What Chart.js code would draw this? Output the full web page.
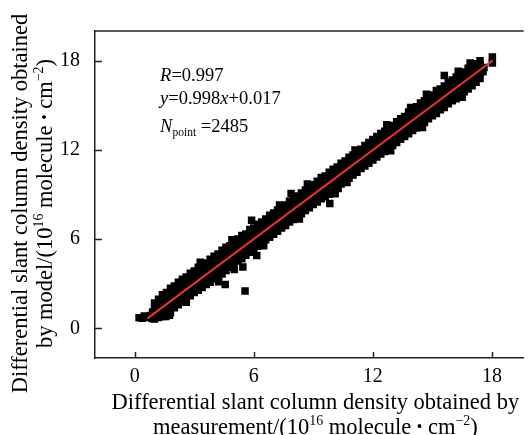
<!DOCTYPE html>
<html>
<head>
<meta charset="utf-8">
<script src="https://cdn.jsdelivr.net/npm/chart.js@4.4.1/dist/chart.umd.min.js"></script>
<style>
  html, body { margin: 0; padding: 0; background: #fff; }
  canvas { display: block; }
</style>
</head>
<body>
<canvas id="dscd" width="529" height="435"></canvas>
<script>
// tick labels
const xTicks = [0, 6, 12, 18];
const yTicks = [0, 6, 12, 18];

const measurement = [
  1.0, 1.2, 1.4, 1.6, 1.8, 2.0, 2.2, 2.4, 2.6, 2.8,
  3.0, 3.2, 3.4, 3.6, 3.8, 4.0, 4.2, 4.4, 4.6, 4.8,
  5.0, 5.2, 5.4, 5.6, 5.8, 6.0, 6.2, 6.4, 6.6, 6.8,
  7.0, 7.2, 7.4, 7.6, 7.8, 8.0, 8.2, 8.4, 8.6, 8.8,
  9.0, 9.2, 9.4, 9.6, 9.8, 10.0, 10.2, 10.4, 10.6, 10.8,
  11.0, 11.2, 11.4, 11.6, 11.8, 12.0, 12.2, 12.4, 12.6, 12.8,
  13.0, 13.2, 13.4, 13.6, 13.8, 14.0, 14.2, 14.4, 14.6, 14.8,
  15.0, 15.2, 15.4, 15.6, 15.8, 16.0, 16.2, 16.4, 16.6, 16.8,
  17.0, 17.2, 17.4
];
const modelHigh = [
  1.70, 1.95, 2.25, 2.40, 2.70, 2.85, 3.10, 3.30, 3.45, 3.70,
  3.85, 4.10, 4.30, 4.40, 4.65, 4.85, 5.00, 5.25, 5.45, 5.55,
  5.85, 6.00, 6.25, 6.35, 6.65, 6.75, 7.00, 7.15, 7.35, 7.60,
  7.75, 7.95, 8.15, 8.30, 8.55, 8.70, 8.90, 9.10, 9.30, 9.50,
  9.65, 9.90, 10.15, 10.25, 10.50, 10.70, 10.85, 11.10, 11.25, 11.50,
  11.65, 11.90, 12.05, 12.30, 12.50, 12.70, 12.90, 13.10, 13.25, 13.50,
  13.65, 13.90, 14.10, 14.25, 14.55, 14.65, 14.90, 15.15, 15.30, 15.50,
  15.70, 16.00, 16.10, 16.30, 16.55, 16.70, 16.90, 17.15, 17.25, 17.50,
  17.60, 17.80, 18.00
];
const modelUpper = [
  1.40, 1.62, 1.80, 2.02, 2.20, 2.42, 2.60, 2.84, 3.00, 3.22,
  3.40, 3.64, 3.80, 4.02, 4.20, 4.42, 4.60, 4.82, 5.00, 5.22,
  5.40, 5.60, 5.82, 6.00, 6.22, 6.40, 6.62, 6.78, 7.02, 7.20,
  7.40, 7.58, 7.82, 7.98, 8.22, 8.38, 8.60, 8.80, 8.98, 9.20,
  9.38, 9.60, 9.78, 10.00, 10.18, 10.40, 10.58, 10.80, 10.98, 11.20,
  11.38, 11.60, 11.78, 12.00, 12.18, 12.40, 12.58, 12.80, 12.98, 13.20,
  13.38, 13.60, 13.78, 14.00, 14.18, 14.40, 14.58, 14.80, 14.98, 15.20,
  15.38, 15.60, 15.78, 16.00, 16.18, 16.40, 16.58, 16.78, 16.98, 17.20,
  17.38, 17.58, 17.72
];
const modelMid = [
  1.05, 1.22, 1.40, 1.58, 1.80, 1.98, 2.22, 2.40, 2.62, 2.78,
  3.02, 3.20, 3.38, 3.62, 3.80, 3.98, 4.22, 4.40, 4.58, 4.82,
  5.00, 5.18, 5.42, 5.60, 5.78, 6.02, 6.20, 6.38, 6.60, 6.82,
  6.98, 7.20, 7.42, 7.60, 7.78, 8.02, 8.18, 8.42, 8.60, 8.78,
  9.02, 9.20, 9.38, 9.62, 9.80, 9.98, 10.22, 10.40, 10.58, 10.82,
  11.00, 11.18, 11.42, 11.60, 11.78, 12.02, 12.20, 12.38, 12.62, 12.80,
  12.98, 13.22, 13.40, 13.58, 13.82, 14.00, 14.18, 14.42, 14.60, 14.78,
  15.02, 15.20, 15.38, 15.62, 15.80, 15.98, 16.22, 16.40, 16.58, 16.82,
  17.00, 17.18, 17.42
];
const modelLower = [
  0.80, 0.95, 1.10, 1.25, 1.48, 1.70, 1.90, 2.10, 2.30, 2.50,
  2.70, 2.88, 3.10, 3.30, 3.48, 3.70, 3.90, 4.08, 4.30, 4.50,
  4.68, 4.90, 5.10, 5.30, 5.48, 5.70, 5.90, 6.08, 6.30, 6.50,
  6.68, 6.90, 7.10, 7.30, 7.48, 7.70, 7.90, 8.08, 8.30, 8.50,
  8.68, 8.90, 9.10, 9.30, 9.48, 9.70, 9.90, 10.08, 10.30, 10.50,
  10.68, 10.90, 11.10, 11.30, 11.48, 11.70, 11.90, 12.08, 12.30, 12.50,
  12.68, 12.90, 13.10, 13.30, 13.48, 13.70, 13.90, 14.08, 14.30, 14.50,
  14.68, 14.90, 15.10, 15.30, 15.48, 15.70, 15.90, 16.08, 16.30, 16.50,
  16.68, 16.90, 17.10
];
const modelLow = [
  0.62, 0.72, 0.80, 0.85, 1.05, 1.38, 1.58, 1.78, 1.95, 2.18,
  2.40, 2.55, 2.75, 2.95, 3.10, 3.32, 3.50, 3.65, 3.88, 4.10,
  4.30, 4.52, 4.68, 4.92, 5.12, 5.32, 5.52, 5.75, 5.95, 6.12,
  6.32, 6.52, 6.75, 6.92, 7.15, 7.32, 7.52, 7.70, 7.92, 8.10,
  8.32, 8.50, 8.72, 8.85, 9.02, 9.22, 9.48, 9.70, 9.90, 10.10,
  10.32, 10.50, 10.75, 10.92, 11.10, 11.32, 11.52, 11.72, 11.90, 12.12,
  12.30, 12.50, 12.72, 12.90, 13.08, 13.30, 13.48, 13.70, 13.85, 14.10,
  14.30, 14.45, 14.70, 14.85, 15.10, 15.30, 15.45, 15.70, 15.92, 16.10,
  16.32, 16.55, 16.80
];

// start of the cloud, ragged edges, stray points and the top end
const extraX = [0.22, 0.38, 0.52, 0.66, 0.48, 0.80, 0.90, 0.88, 1.55, 1.75,
  4.23, 4.56, 5.02, 5.45, 5.56, 6.15, 5.89, 7.88, 9.83, 10.10,
  10.25, 15.60, 17.60, 17.55, 18.02, 18.02,
  3.30, 4.90, 7.30, 8.70, 11.10, 12.70, 13.90, 14.70, 16.30, 16.90,
  2.60, 6.50, 8.30, 10.70, 12.90, 14.50, 16.50];
const extraY = [0.70, 0.68, 0.72, 0.74, 0.82, 0.86, 1.10, 0.66, 0.80, 0.88,
  3.13, 2.95, 3.96, 4.12, 2.50, 4.90, 7.27, 9.06, 8.39, 9.05,
  9.40, 17.00, 17.55, 17.25, 17.85, 18.25,
  4.45, 5.95, 8.30, 9.70, 12.00, 13.70, 14.85, 15.75, 17.30, 17.85,
  1.75, 5.55, 7.35, 9.80, 11.95, 13.50, 15.55];

// fitted line y = 0.998x + 0.017
const fitX = [0.65, 18.05];
const fitY = [0.666, 18.03];

const noteX = 1.28;
const noteY = [16.66, 15.10, 13.19];
const noteLines = [
  [{t: 'R', it: true}, {t: '=0.997'}],
  [{t: 'y', it: true}, {t: '=0.998'}, {t: 'x', it: true}, {t: '+0.017'}],
  [{t: 'N', it: true}, {t: 'point', sub: true}, {t: ' =2485'}]
];

const xTitle = [
  [{t: 'Differential slant column density obtained by'}],
  [{t: 'measurement/(10'}, {t: '16', sup: true}, {t: ' molecule '}, {t: '•', dot: true}, {t: ' cm'}, {t: '−2', sup: true}, {t: ')'}]
];
const yTitle = [
  [{t: 'Differential slant column density obtained'}],
  [{t: 'by model/(10'}, {t: '16', sup: true}, {t: ' molecule '}, {t: '•', dot: true}, {t: ' cm'}, {t: '−2', sup: true}, {t: ')'}]
];

const SERIF = '"Liberation Serif", "Times New Roman", serif';

function pts(xs, ys) {
  return xs.map((x, i) => ({x: x, y: ys[i]}));
}

function segFont(s, size) {
  let sz = size;
  if (s.sup || s.sub) sz = size * 0.62;
  if (s.dot) sz = size * 0.7;
  return (s.it ? 'italic ' : '') + sz.toFixed(1) + 'px ' + SERIF;
}

function drawRich(ctx, segs, x, y, size, align) {
  let w = 0;
  segs.forEach(s => { ctx.font = segFont(s, size); w += ctx.measureText(s.t).width; });
  let cx = align === 'center' ? x - w / 2 : x;
  ctx.textAlign = 'left';
  ctx.textBaseline = 'alphabetic';
  segs.forEach(s => {
    ctx.font = segFont(s, size);
    let dy = 0;
    if (s.sup) dy = -size * 0.38;
    if (s.sub) dy = size * 0.22;
    if (s.dot) dy = -size * 0.08;
    ctx.fillText(s.t, cx, y + dy);
    cx += ctx.measureText(s.t).width;
  });
}

const decor = {
  id: 'decor',
  afterDraw(chart) {
    const ctx = chart.ctx;
    const a = chart.chartArea;
    const sx = chart.scales.x, sy = chart.scales.y;
    ctx.save();
    ctx.strokeStyle = '#222';
    ctx.lineWidth = 1.5;
    ctx.beginPath();
    ctx.moveTo(a.left - 0.75, a.top);
    ctx.lineTo(a.right, a.top);
    ctx.stroke();
    // inward tick marks
    ctx.beginPath();
    xTicks.forEach(v => {
      const p = Math.round(sx.getPixelForValue(v)) + 0.5;
      ctx.moveTo(p, a.bottom);
      ctx.lineTo(p, a.bottom - 6);
    });
    yTicks.forEach(v => {
      const p = Math.round(sy.getPixelForValue(v)) + 0.5;
      ctx.moveTo(a.left, p);
      ctx.lineTo(a.left + 7, p);
    });
    ctx.stroke();

    ctx.fillStyle = '#000';
    // annotation
    noteLines.forEach((segs, i) => {
      drawRich(ctx, segs, sx.getPixelForValue(noteX), sy.getPixelForValue(noteY[i]), 18.5, 'left');
    });
    // x title
    const xc = (a.left + a.right) / 2 + 6;
    xTitle.forEach((segs, i) => drawRich(ctx, segs, xc, a.bottom + 51 + i * 25, 22.5, 'center'));
    // y title
    const yc = (a.top + a.bottom) / 2 + 9;
    yTitle.forEach((segs, i) => {
      ctx.save();
      ctx.translate(a.left - 68 + i * 25, yc);
      ctx.rotate(-Math.PI / 2);
      drawRich(ctx, segs, 0, 0, 22.5, 'center');
      ctx.restore();
    });
    ctx.restore();
  }
};

const square = {
  type: 'scatter',
  pointStyle: 'rect',
  pointRadius: 5.3,
  pointHoverRadius: 5.3,
  pointBorderWidth: 0,
  backgroundColor: '#000',
  borderColor: '#000'
};

new Chart(document.getElementById('dscd'), {
  type: 'scatter',
  data: {
    datasets: [
      {
        type: 'line',
        data: pts(fitX, fitY),
        borderColor: '#e8352b',
        borderWidth: 2,
        pointRadius: 0,
        fill: false
      },
      Object.assign({data: pts(measurement, modelHigh)}, square),
      Object.assign({data: pts(measurement, modelUpper)}, square),
      Object.assign({data: pts(measurement, modelMid)}, square),
      Object.assign({data: pts(measurement, modelLower)}, square),
      Object.assign({data: pts(measurement, modelLow)}, square),
      Object.assign({data: pts(extraX, extraY)}, square)
    ]
  },
  options: {
    responsive: false,
    animation: false,
    layout: { padding: { top: 31, right: 0, bottom: 0, left: 0 } },
    plugins: {
      legend: { display: false },
      tooltip: { enabled: false }
    },
    scales: {
      x: {
        type: 'linear',
        min: -2,
        max: 19.6,
        afterBuildTicks: s => { s.ticks = xTicks.map(v => ({value: v})); },
        afterFit: s => { s.height = 77; },
        grid: { display: false, drawTicks: false },
        border: { display: true, color: '#222', width: 1.5 },
        ticks: { padding: 7, color: '#000', font: { family: SERIF, size: 20 } }
      },
      y: {
        type: 'linear',
        min: -2,
        max: 20,
        afterBuildTicks: s => { s.ticks = yTicks.map(v => ({value: v})); },
        afterFit: s => { s.width = 95; },
        grid: { display: false, drawTicks: false },
        border: { display: true, color: '#222', width: 1.5 },
        ticks: { padding: 15, color: '#000', font: { family: SERIF, size: 20 } }
      }
    }
  },
  plugins: [decor]
});
</script>
</body>
</html>
